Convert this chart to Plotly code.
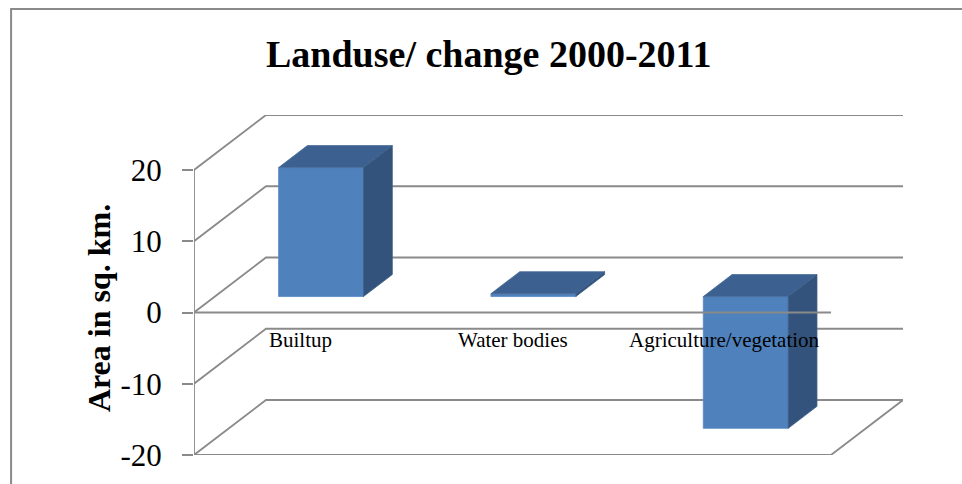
import plotly.graph_objects as go

# Land-use change between 2000 and 2011 (sq. km)
categories = ["Builtup", "Water bodies", "Agriculture/vegetation"]
change_sq_km = [18.1, 0.4, -18.5]
tick_values = [-20, -10, 0, 10, 20]
tick_labels = ["-20", "-10", "0", "10", "20"]

# Oblique projection used for the 3-D look (depth 0 = front plane, 1 = back wall)
DEPTH_DX = 0.339   # horizontal shift of the back wall, in category units
DEPTH_DY = 7.72    # vertical shift of the back wall, in value units
BAR_HALF = 0.2     # half width of a bar, in category units
BAR_D0, BAR_D1 = 0.29, 0.69  # depth span of each bar

X_MIN, X_MAX = -0.5, len(categories) - 0.5
Y_MIN, Y_MAX = min(tick_values), max(tick_values)

GRID = "#8a8a8a"
FRONT = "#4f81bd"
TOP = "#3c6190"
SIDE = "#33537c"
SERIF = "Liberation Serif"


def proj(x, y, d):
    return x + d * DEPTH_DX, y + d * DEPTH_DY


def path(points):
    xs, ys = [], []
    for p in points:
        if p is None:
            xs.append(None)
            ys.append(None)
        else:
            xs.append(p[0])
            ys.append(p[1])
    return xs, ys


fig = go.Figure()

# Side-wall and back-wall gridlines, one per tick value
grid_pts = []
for v in tick_values:
    grid_pts += [proj(X_MIN, v, 0), proj(X_MIN, v, 1), proj(X_MAX, v, 1), None]
# Floor outline at the minimum value
grid_pts += [proj(X_MIN, Y_MIN, 0), proj(X_MAX, Y_MIN, 0), proj(X_MAX, Y_MIN, 1), None]
# Vertical value axis on the front plane
grid_pts += [proj(X_MIN, Y_MIN, 0), proj(X_MIN, Y_MAX, 0)]
gx, gy = path(grid_pts)
fig.add_trace(go.Scatter(x=gx, y=gy, mode="lines", line=dict(color=GRID, width=1.8),
                         hoverinfo="skip", showlegend=False))

# 3-D bars: front face, top face and right side face
for i, v in enumerate(change_sq_km):
    lo, hi = min(0, v), max(0, v)
    xl, xr = i - BAR_HALF, i + BAR_HALF
    faces = [
        ([proj(xl, lo, BAR_D0), proj(xr, lo, BAR_D0), proj(xr, hi, BAR_D0), proj(xl, hi, BAR_D0)], FRONT, "#5a8ac4"),
        ([proj(xl, hi, BAR_D0), proj(xr, hi, BAR_D0), proj(xr, hi, BAR_D1), proj(xl, hi, BAR_D1)], TOP, "#4a6d9a"),
        ([proj(xr, lo, BAR_D0), proj(xr, lo, BAR_D1), proj(xr, hi, BAR_D1), proj(xr, hi, BAR_D0)], SIDE, "#3d5f88"),
    ]
    for pts, fill, edge in faces:
        fx, fy = path(pts + [pts[0]])
        fig.add_trace(go.Scatter(x=fx, y=fy, mode="lines", fill="toself", fillcolor=fill,
                                 line=dict(color=edge, width=0.8),
                                 name=categories[i], hovertemplate="%{fullData.name}: " + f"{v}<extra></extra>",
                                 showlegend=False))

# Category axis line at zero on the front plane
zx, zy = path([proj(X_MIN, 0, 0), proj(X_MAX, 0, 0)])
fig.add_trace(go.Scatter(x=zx, y=zy, mode="lines", line=dict(color=GRID, width=1.8),
                         hoverinfo="skip", showlegend=False))

# Category labels just below the zero line
for i, name in enumerate(categories):
    fig.add_annotation(x=i, y=0, xref="x", yref="y", text=name, showarrow=False,
                       yanchor="middle", yshift=-27,
                       font=dict(family=SERIF, size=21, color="black"))

fig.add_annotation(x=0.416, y=1.18, xref="paper", yref="paper",
                   text="<b>Landuse/ change 2000-2011</b>", showarrow=False,
                   xanchor="center", yanchor="middle",
                   font=dict(family=SERIF, size=38, color="black"))

fig.add_annotation(x=-0.134, y=0.432, xref="paper", yref="paper",
                   text="<b>Area in sq. km.</b>", showarrow=False, textangle=-90,
                   xanchor="center", yanchor="middle",
                   font=dict(family=SERIF, size=32, color="black"))

# Chart frame
fig.add_shape(type="rect", xref="paper", yref="paper", x0=-0.258, y0=-0.12, x1=1.1, y1=1.312,
              line=dict(color=GRID, width=2), fillcolor="rgba(0,0,0,0)", layer="below")

fig.update_xaxes(range=[X_MIN, X_MAX + DEPTH_DX], visible=False, fixedrange=True)
fig.update_yaxes(range=[Y_MIN, Y_MAX + DEPTH_DY], tickvals=tick_values, ticktext=tick_labels,
                 ticks="outside", ticklen=11, tickwidth=1.8, tickcolor=GRID,
                 ticklabelstandoff=14,
                 showgrid=False, zeroline=False, showline=False, fixedrange=True,
                 tickfont=dict(family=SERIF, size=31, color="black"))

fig.update_layout(width=962, height=484, margin=dict(l=194, r=59, t=115, b=29),
                  paper_bgcolor="white", plot_bgcolor="white", showlegend=False)

fig.write_html("out.html")
